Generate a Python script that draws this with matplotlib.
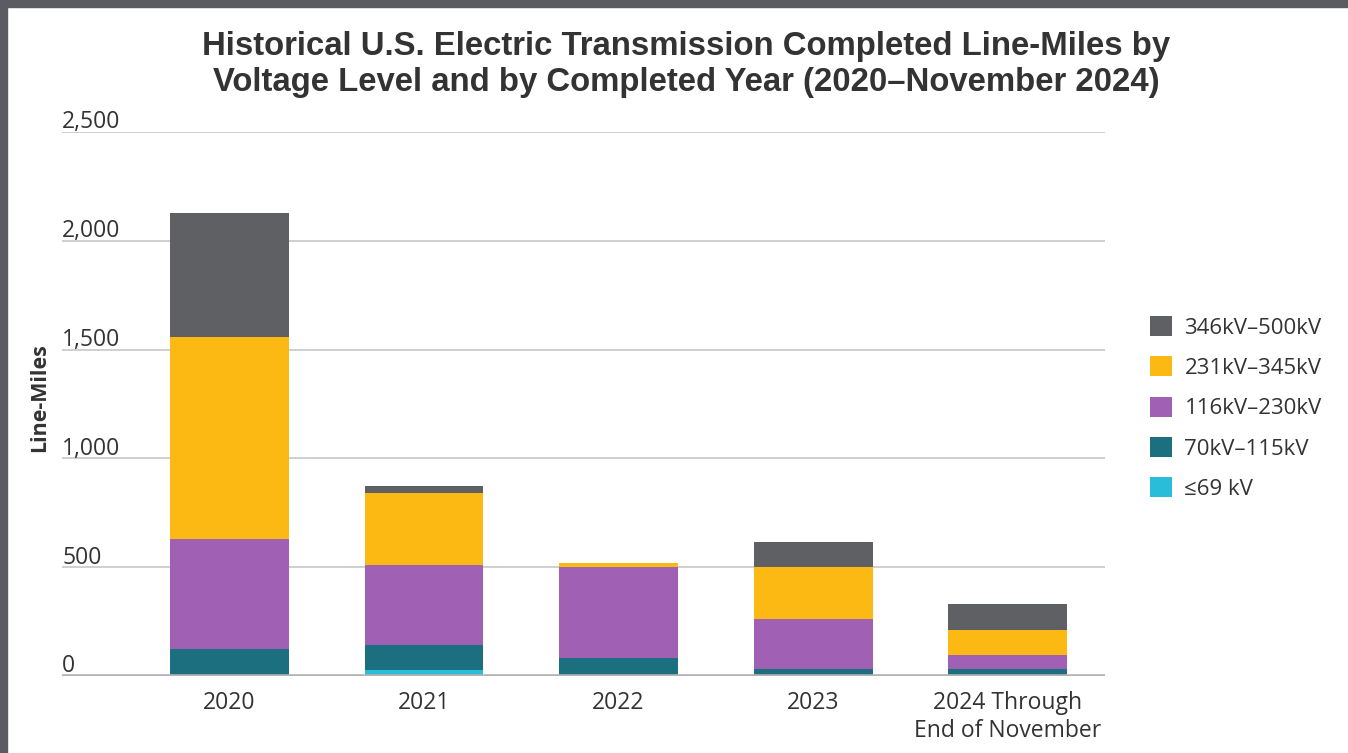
import matplotlib
matplotlib.use("Agg")
import matplotlib.pyplot as plt
import numpy as np
from matplotlib.patches import Rectangle

years = ["2020", "2021", "2022", "2023", "2024 Through\nEnd of November"]
series = ["≤69 kV", "70kV–115kV", "116kV–230kV", "231kV–345kV", "346kV–500kV"]
kv_le69 = [0, 27, 0, 0, 0]
kv_70_115 = [124, 115, 83, 32, 34]
kv_116_230 = [506, 368, 418, 230, 63]
kv_231_345 = [928, 331, 18, 239, 114]
kv_346_500 = [570, 32, 0, 115, 121]
colors = ["#29bdd9", "#1b6f7e", "#a061b5", "#fcb914", "#5e6064"]

text_color = "#333333"
tick_font = "Open Sans"

fig = plt.figure(figsize=(13.48, 7.53), dpi=100)
# dark frame on the top and left edges
fig.patches.append(Rectangle((0, 0.9907), 1, 0.01, transform=fig.transFigure,
                             color="#5b5c61", zorder=0))
fig.patches.append(Rectangle((0, 0), 0.0052, 1, transform=fig.transFigure,
                             color="#5b5c61", zorder=0))

ax = fig.add_axes([62 / 1348, 1 - 676 / 753, (1105 - 62) / 1348, 544 / 753])

x = np.arange(len(years))
bottom = np.zeros(len(years))
for vals, name, c in zip([kv_le69, kv_70_115, kv_116_230, kv_231_345, kv_346_500],
                         series, colors):
    ax.bar(x, vals, width=0.61, bottom=bottom, color=c, label=name, zorder=3)
    bottom += np.array(vals)

ax.set_xlim(-0.861, 4.50)
ax.set_ylim(0, 2500)

for s in ax.spines.values():
    s.set_visible(False)
ax.set_yticks([])
for v in [0, 500, 1000, 1500, 2000, 2500]:
    if v:
        ax.axhline(v, color="#cfcfcf", lw=1.4, zorder=1)
    ax.text(0, v + 17, f"{v:,}", transform=ax.get_yaxis_transform(),
            ha="left", va="baseline", fontsize=16.5, family=tick_font,
            color=text_color)
ax.axhline(0, color="#b3b3b3", lw=2.6, zorder=4)

ax.set_xticks(x)
ax.set_xticklabels(years, fontsize=16.5, family=tick_font, color=text_color,
                   linespacing=1.2)
ax.tick_params(axis="x", length=0, pad=11)

fig.text(40 / 1348, 1 - 398 / 753, "Line-Miles", rotation=90, ha="center",
         va="center", fontsize=15.5, fontweight="bold", family=tick_font,
         color=text_color)

fig.suptitle("Historical U.S. Electric Transmission Completed Line-Miles by\n"
             "Voltage Level and by Completed Year (2020–November 2024)",
             x=0.509, y=1 - 31 / 753, va="top", fontsize=23.7, fontweight="bold",
             family="Liberation Sans", color=text_color, linespacing=1.22)

handles, labels = ax.get_legend_handles_labels()
leg = fig.legend(handles[::-1], labels[::-1], loc="center left",
                 bbox_to_anchor=(1150 / 1348, 1 - 408 / 753), frameon=False,
                 prop={"family": tick_font, "size": 16}, handlelength=1.0,
                 handleheight=1.0, handletextpad=0.55, labelspacing=0.8,
                 borderaxespad=0, borderpad=0)
for t in leg.get_texts():
    t.set_color(text_color)

fig.savefig("out.png", dpi=100)
